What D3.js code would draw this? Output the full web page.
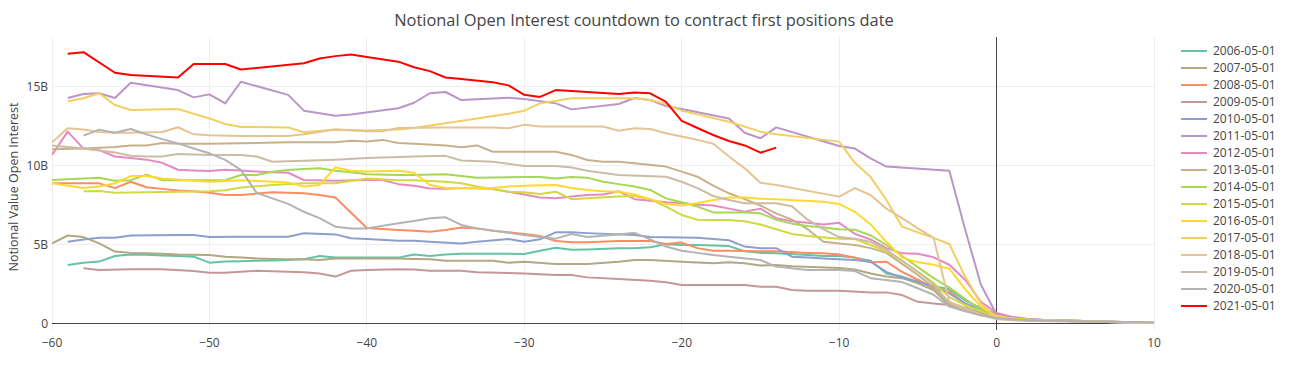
<!DOCTYPE html>
<html>
<head>
<meta charset="utf-8">
<script src="https://cdn.jsdelivr.net/npm/d3@7"></script>
<style>
  html, body { margin: 0; padding: 0; background: #fff; }
  svg { display: block; font-family: "Open Sans", verdana, arial, sans-serif; }
</style>
</head>
<body>
<svg id="chart" width="1295" height="365"></svg>
<script>
// ---------- data (values in billions, x = days to first positions date) ----------
const chartTitle = "Notional Open Interest countdown to contract first positions date";
const yAxisTitle = "Notional Value Open Interest";
const xTicks = [-60, -50, -40, -30, -20, -10, 0, 10];
const yTicks = [0, 5, 10, 15];
const seriesNames = ["2006-05-01","2007-05-01","2008-05-01","2009-05-01","2010-05-01","2011-05-01","2012-05-01","2013-05-01","2014-05-01","2015-05-01","2016-05-01","2017-05-01","2018-05-01","2019-05-01","2020-05-01","2021-05-01"];

const s2006 = [[-59,3.73],[-58,3.88],[-57,3.95],[-56,4.3],[-55,4.4],[-54,4.38],[-53,4.34],[-52,4.3],[-51,4.26],[-50,3.88],[-49,3.95],[-48,3.97],[-47,4.0],[-46,4.02],[-45,4.05],[-44,4.1],[-43,4.3],[-42,4.2],[-41,4.2],[-40,4.2],[-38,4.2],[-37,4.4],[-36,4.3],[-35,4.4],[-34,4.45],[-32,4.45],[-30,4.43],[-29,4.64],[-28,4.83],[-27,4.7],[-26,4.72],[-24,4.8],[-23,4.8],[-22,4.85],[-21,5.04],[-20,5.0],[-19,5.0],[-17,4.93],[-16,4.6],[-15,4.5],[-14,4.47],[-12,4.36],[-11,4.3],[-10,4.3],[-9,4.2],[-8,4.0],[-7,3.2],[-6,3.0],[-5,2.68],[-4,2.4],[-3,2.2],[-2,1.5],[-1,1.0],[0,0.65],[1,0.42],[2,0.3],[3,0.25],[4,0.22],[5,0.2],[6,0.18],[7,0.14],[8,0.12],[9,0.11],[10,0.1]];
const s2007 = [[-60,5.1],[-59,5.6],[-58,5.5],[-57,5.1],[-56,4.58],[-55,4.5],[-54,4.48],[-53,4.45],[-52,4.4],[-51,4.38],[-50,4.36],[-49,4.26],[-48,4.2],[-47,4.15],[-46,4.12],[-45,4.1],[-44,4.1],[-43,4.05],[-42,4.15],[-40,4.15],[-38,4.15],[-37,4.12],[-36,4.1],[-35,4.0],[-32,4.0],[-31,3.88],[-30,3.94],[-28,3.8],[-26,3.8],[-24,3.94],[-23,4.05],[-22,4.05],[-20,3.94],[-18,3.84],[-17,3.9],[-16,3.85],[-15,3.7],[-14,3.73],[-13,3.65],[-10,3.55],[-9,3.45],[-8,3.2],[-7,3.0],[-6,2.9],[-5,2.57],[-4,2.15],[-3,1.2],[-2,0.9],[-1,0.6],[0,0.4],[1,0.3],[2,0.24],[3,0.2],[4,0.2],[5,0.18],[6,0.16],[7,0.13],[8,0.11],[9,0.1],[10,0.09]];
const s2008 = [[-60,8.9],[-59,8.9],[-58,8.9],[-57,8.9],[-56,8.6],[-55,9.0],[-54,8.65],[-53,8.55],[-52,8.45],[-51,8.4],[-50,8.3],[-49,8.16],[-48,8.16],[-47,8.25],[-46,8.33],[-45,8.3],[-44,8.27],[-43,8.16],[-42,8.0],[-40,6.07],[-38,5.95],[-37,5.9],[-36,5.84],[-35,5.95],[-34,6.1],[-33,6.05],[-32,5.9],[-31,5.8],[-30,5.7],[-29,5.57],[-28,5.25],[-27,5.17],[-26,5.17],[-24,5.25],[-22,5.25],[-21,5.06],[-20,5.15],[-19,4.8],[-18,4.64],[-17,4.64],[-15,4.6],[-14,4.6],[-12,4.5],[-11,4.47],[-10,4.4],[-9,4.2],[-8,3.9],[-7,3.94],[-6,3.3],[-5,2.8],[-4,2.26],[-3,2.05],[-2,1.3],[-1,0.8],[0,0.5],[1,0.35],[2,0.27],[3,0.23],[4,0.2],[5,0.19],[6,0.16],[7,0.13],[8,0.12],[9,0.1],[10,0.09]];
const s2009 = [[-58,3.52],[-57,3.42],[-55,3.46],[-53,3.46],[-51,3.35],[-50,3.25],[-49,3.25],[-47,3.37],[-45,3.3],[-44,3.27],[-43,3.2],[-42,3.0],[-41,3.37],[-40,3.42],[-38,3.46],[-37,3.45],[-36,3.37],[-34,3.37],[-33,3.27],[-30,3.2],[-28,3.1],[-27,3.1],[-26,2.95],[-24,2.85],[-22,2.74],[-21,2.64],[-20,2.47],[-16,2.47],[-15,2.36],[-14,2.36],[-13,2.15],[-12,2.1],[-10,2.1],[-8,2.0],[-7,2.0],[-6,1.83],[-5,1.4],[-4,1.3],[-3,1.2],[-2,1.05],[-1,0.7],[0,0.45],[1,0.33],[2,0.26],[3,0.22],[4,0.2],[5,0.18],[6,0.15],[7,0.12],[8,0.11],[9,0.1],[10,0.08]];
const s2010 = [[-59,5.2],[-58,5.35],[-57,5.46],[-56,5.46],[-55,5.6],[-52,5.63],[-51,5.63],[-50,5.5],[-48,5.52],[-45,5.52],[-44,5.74],[-42,5.67],[-41,5.42],[-40,5.38],[-38,5.27],[-37,5.27],[-36,5.2],[-34,5.1],[-33,5.2],[-31,5.38],[-30,5.2],[-29,5.36],[-28,5.8],[-27,5.8],[-26,5.75],[-23,5.63],[-22,5.5],[-20,5.48],[-19,5.46],[-18,5.38],[-17,5.3],[-16,4.9],[-15,4.8],[-14,4.8],[-13,4.26],[-12,4.2],[-11,4.15],[-10,4.1],[-9,4.05],[-8,3.94],[-7,3.3],[-6,2.93],[-5,2.68],[-4,2.36],[-3,1.94],[-2,1.3],[-1,0.9],[0,0.55],[1,0.38],[2,0.29],[3,0.24],[4,0.21],[5,0.2],[6,0.17],[7,0.14],[8,0.12],[9,0.11],[10,0.1]];
const s2011 = [[-59,14.3],[-58,14.55],[-57,14.6],[-56,14.3],[-55,15.27],[-52,14.8],[-51,14.34],[-50,14.53],[-49,13.96],[-48,15.33],[-45,14.5],[-44,13.5],[-42,13.18],[-41,13.25],[-38,13.65],[-37,14.0],[-36,14.6],[-35,14.68],[-34,14.17],[-31,14.32],[-30,14.24],[-28,13.96],[-27,13.58],[-24,13.92],[-23,14.3],[-22,14.17],[-21,13.79],[-20,13.6],[-17,13.0],[-16,12.1],[-15,11.75],[-14,12.44],[-10,11.26],[-9,11.1],[-8,10.48],[-7,9.96],[-3,9.7],[-2,6.0],[-1,2.5],[0,0.6],[1,0.4],[2,0.3],[3,0.26],[4,0.23],[5,0.21],[6,0.18],[7,0.15],[8,0.13],[9,0.12],[10,0.1]];
const s2012 = [[-60,10.7],[-59,12.17],[-58,11.1],[-57,11.0],[-56,10.6],[-55,10.5],[-54,10.4],[-53,10.2],[-52,9.76],[-51,9.72],[-50,9.68],[-49,9.76],[-48,9.72],[-47,9.65],[-46,9.6],[-45,9.57],[-44,9.11],[-42,9.07],[-40,9.11],[-39,9.11],[-38,8.85],[-37,8.75],[-36,8.58],[-35,8.55],[-34,8.6],[-32,8.55],[-31,8.37],[-30,8.2],[-29,8.0],[-28,7.95],[-27,8.06],[-26,8.16],[-25,8.2],[-24,8.4],[-23,7.9],[-22,7.8],[-21,7.7],[-20,7.65],[-19,7.55],[-18,7.5],[-17,7.3],[-16,7.1],[-15,7.3],[-14,6.7],[-13,6.5],[-12,6.4],[-11,6.3],[-10,6.4],[-9,5.7],[-8,5.35],[-7,4.8],[-6,4.47],[-5,4.45],[-4,4.22],[-3,3.75],[-2,2.8],[-1,1.4],[0,0.7],[1,0.45],[2,0.32],[3,0.26],[4,0.23],[5,0.2],[6,0.18],[7,0.14],[8,0.12],[9,0.1],[10,0.09]];
const s2013 = [[-60,11.05],[-58,11.1],[-56,11.2],[-55,11.3],[-54,11.3],[-53,11.45],[-52,11.4],[-50,11.4],[-45,11.5],[-42,11.5],[-41,11.6],[-40,11.55],[-39,11.65],[-38,11.45],[-37,11.4],[-35,11.3],[-34,11.18],[-33,11.3],[-32,10.9],[-28,10.9],[-27,10.7],[-26,10.38],[-25,10.27],[-24,10.27],[-23,10.17],[-21,9.96],[-20,9.64],[-19,9.32],[-18,8.75],[-17,8.27],[-16,7.9],[-15,7.5],[-14,7.0],[-13,6.6],[-12,6.0],[-11,5.2],[-10,5.1],[-9,5.0],[-8,4.8],[-7,4.5],[-6,3.8],[-5,3.1],[-4,2.3],[-3,1.4],[-2,1.0],[-1,0.6],[0,0.4],[1,0.3],[2,0.24],[3,0.21],[4,0.19],[5,0.18],[6,0.15],[7,0.12],[8,0.11],[9,0.1],[10,0.08]];
const s2014 = [[-60,9.11],[-57,9.26],[-56,9.07],[-55,9.1],[-54,9.45],[-53,9.1],[-50,9.1],[-49,9.1],[-48,9.43],[-47,9.43],[-46,9.64],[-45,9.75],[-44,9.8],[-43,9.85],[-42,9.7],[-41,9.6],[-40,9.47],[-38,9.43],[-37,9.43],[-35,9.47],[-33,9.26],[-30,9.3],[-29,9.3],[-28,9.2],[-27,9.3],[-26,9.26],[-25,9.0],[-24,8.85],[-23,8.7],[-22,8.48],[-21,7.95],[-20,7.7],[-19,7.43],[-18,7.06],[-17,7.06],[-16,7.06],[-15,7.0],[-14,6.6],[-13,6.35],[-12,6.2],[-11,6.1],[-10,6.0],[-9,5.97],[-8,5.6],[-7,5.0],[-6,4.3],[-5,3.6],[-4,2.9],[-3,2.3],[-2,1.6],[-1,0.9],[0,0.5],[1,0.36],[2,0.28],[3,0.24],[4,0.21],[5,0.19],[6,0.17],[7,0.13],[8,0.12],[9,0.1],[10,0.09]];
const s2015 = [[-58,8.4],[-57,8.42],[-56,8.3],[-53,8.36],[-50,8.4],[-49,8.46],[-48,8.63],[-46,8.8],[-44,8.9],[-42,8.9],[-40,9.2],[-38,9.1],[-37,9.1],[-35,9.0],[-34,8.9],[-33,8.7],[-31,8.37],[-30,8.33],[-29,8.22],[-28,8.37],[-27,7.9],[-26,7.95],[-24,8.06],[-23,8.1],[-22,7.9],[-21,7.43],[-20,6.9],[-19,6.6],[-18,6.58],[-17,6.58],[-16,6.5],[-15,6.3],[-14,6.0],[-13,5.7],[-12,5.57],[-10,5.4],[-9,5.38],[-8,5.0],[-7,4.6],[-6,4.0],[-5,3.3],[-4,2.6],[-3,1.7],[-2,1.2],[-1,0.8],[0,0.45],[1,0.32],[2,0.26],[3,0.22],[4,0.2],[5,0.19],[6,0.16],[7,0.13],[8,0.11],[9,0.1],[10,0.09]];
const s2016 = [[-60,8.9],[-58,8.6],[-57,8.7],[-56,8.9],[-55,9.36],[-54,9.36],[-53,9.2],[-50,9.0],[-48,9.1],[-45,8.96],[-44,8.7],[-43,8.8],[-42,9.9],[-41,9.7],[-40,9.65],[-38,9.7],[-37,9.57],[-36,8.8],[-35,8.6],[-32,8.6],[-31,8.7],[-30,8.75],[-28,8.8],[-27,8.6],[-26,8.48],[-25,8.4],[-24,8.37],[-23,8.2],[-22,7.9],[-21,7.6],[-20,7.5],[-19,7.65],[-18,7.85],[-17,8.0],[-16,8.0],[-15,7.93],[-14,7.9],[-11,7.74],[-10,7.6],[-9,7.1],[-8,6.3],[-7,5.2],[-6,4.2],[-5,3.9],[-4,3.75],[-3,3.5],[-2,2.2],[-1,1.1],[0,0.5],[1,0.34],[2,0.27],[3,0.23],[4,0.21],[5,0.2],[6,0.17],[7,0.14],[8,0.12],[9,0.11],[10,0.1]];
const s2017 = [[-59,14.1],[-58,14.28],[-57,14.6],[-56,13.86],[-55,13.54],[-52,13.6],[-50,13.0],[-49,12.66],[-48,12.47],[-45,12.44],[-44,12.13],[-42,12.3],[-40,12.25],[-38,12.3],[-37,12.4],[-35,12.7],[-31,13.3],[-30,13.5],[-29,13.96],[-27,14.28],[-23,14.28],[-22,14.17],[-21,13.92],[-20,13.5],[-17,12.8],[-15,12.17],[-14,12.0],[-10,11.54],[-9,10.2],[-8,9.3],[-7,7.85],[-6,6.16],[-5,5.8],[-4,5.45],[-3,5.06],[-2,3.0],[-1,1.3],[0,0.4],[1,0.3],[2,0.25],[3,0.22],[4,0.2],[5,0.18],[6,0.16],[7,0.13],[8,0.12],[9,0.1],[10,0.1]];
const s2018 = [[-60,11.5],[-59,12.38],[-58,12.3],[-57,12.15],[-56,12.1],[-55,12.1],[-53,12.15],[-52,12.45],[-51,12.0],[-50,11.95],[-48,11.9],[-45,11.9],[-44,12.0],[-42,12.3],[-40,12.2],[-39,12.2],[-38,12.4],[-35,12.44],[-32,12.44],[-31,12.38],[-30,12.6],[-29,12.5],[-25,12.5],[-24,12.23],[-23,12.38],[-22,12.34],[-21,12.07],[-20,11.86],[-19,11.65],[-18,11.4],[-17,10.6],[-16,9.85],[-15,8.94],[-14,8.8],[-10,8.06],[-9,8.6],[-8,8.16],[-7,7.3],[-6,6.7],[-5,6.05],[-4,5.45],[-3,1.4],[-2,1.0],[-1,0.6],[0,0.3],[1,0.24],[2,0.2],[3,0.18],[4,0.17],[5,0.16],[6,0.14],[7,0.12],[8,0.1],[9,0.09],[10,0.08]];
const s2019 = [[-60,11.3],[-58,11.1],[-56,10.85],[-55,10.65],[-54,10.6],[-53,10.6],[-52,10.75],[-50,10.7],[-48,10.7],[-47,10.6],[-46,10.27],[-45,10.3],[-42,10.4],[-40,10.5],[-37,10.6],[-35,10.64],[-34,10.35],[-32,10.27],[-30,10.0],[-28,10.0],[-27,9.9],[-26,9.7],[-24,9.43],[-21,9.32],[-20,9.0],[-19,8.6],[-18,8.1],[-17,7.85],[-16,7.64],[-14,7.64],[-13,7.45],[-12,6.6],[-11,6.0],[-10,5.5],[-9,5.4],[-8,5.2],[-7,4.7],[-6,4.0],[-5,3.3],[-4,2.5],[-3,1.3],[-2,0.9],[-1,0.55],[0,0.35],[1,0.27],[2,0.22],[3,0.2],[4,0.18],[5,0.17],[6,0.15],[7,0.12],[8,0.11],[9,0.1],[10,0.08]];
const s2020 = [[-58,11.92],[-57,12.3],[-56,12.1],[-55,12.34],[-54,12.0],[-53,11.7],[-52,11.43],[-51,11.1],[-50,10.8],[-49,10.38],[-48,9.75],[-47,8.3],[-45,7.6],[-44,7.1],[-43,6.7],[-42,6.16],[-41,6.05],[-40,6.05],[-38,6.37],[-37,6.52],[-36,6.69],[-35,6.75],[-34,6.27],[-33,6.05],[-31,5.77],[-30,5.63],[-29,5.5],[-28,5.4],[-27,5.69],[-26,5.5],[-24,5.67],[-23,5.77],[-22,5.35],[-21,4.9],[-20,4.64],[-19,4.5],[-18,4.36],[-17,4.26],[-15,4.05],[-14,3.63],[-12,3.42],[-10,3.42],[-9,3.35],[-8,2.9],[-7,2.78],[-6,2.65],[-5,2.26],[-4,1.85],[-3,1.1],[-2,0.8],[-1,0.55],[0,0.4],[1,0.3],[2,0.24],[3,0.21],[4,0.2],[5,0.18],[6,0.16],[7,0.14],[8,0.13],[9,0.12],[10,0.11]];
const s2021 = [[-59,17.1],[-58,17.2],[-56,15.9],[-55,15.75],[-52,15.6],[-51,16.45],[-49,16.45],[-48,16.1],[-44,16.5],[-43,16.8],[-42,16.95],[-41,17.05],[-40,16.9],[-38,16.6],[-37,16.25],[-36,16.0],[-35,15.6],[-34,15.5],[-32,15.3],[-31,15.1],[-30,14.5],[-29,14.37],[-28,14.8],[-24,14.55],[-23,14.65],[-22,14.6],[-21,14.05],[-20,12.85],[-19,12.4],[-18,11.96],[-17,11.58],[-16,11.3],[-15,10.84],[-14,11.16]];

const seriesValues = [s2006,s2007,s2008,s2009,s2010,s2011,s2012,s2013,s2014,s2015,s2016,s2017,s2018,s2019,s2020,s2021];

// ---------- style ----------
const set2Scale = d3.piecewise(d3.interpolateRgb, d3.schemeSet2);
const colors = seriesNames.map((n, i) => i < 15 ? set2Scale(i / 14) : "#ff0000");

const plot = { left: 52, right: 1154, top: 37, bottom: 330 };
const svg = d3.select("#chart");

const x = d3.scaleLinear().domain([-60, 10]).range([plot.left, plot.right]);
const y = d3.scaleLinear().domain([-0.38, 18.16]).range([plot.bottom, plot.top]);

// grid
const grid = svg.append("g");
grid.selectAll("line.xg").data(xTicks.filter(d => d !== 0)).join("line")
  .attr("x1", d => x(d)).attr("x2", d => x(d))
  .attr("y1", plot.top).attr("y2", plot.bottom)
  .attr("stroke", "#eee").attr("stroke-width", 1).attr("shape-rendering", "crispEdges");
grid.selectAll("line.yg").data(yTicks.filter(d => d !== 0)).join("line")
  .attr("x1", plot.left).attr("x2", plot.right)
  .attr("y1", d => y(d)).attr("y2", d => y(d))
  .attr("stroke", "#eee").attr("stroke-width", 1).attr("shape-rendering", "crispEdges");

// zero lines
svg.append("line").attr("x1", x(0)).attr("x2", x(0)).attr("y1", plot.top).attr("y2", plot.bottom)
  .attr("stroke", "#444").attr("stroke-width", 1).attr("shape-rendering", "crispEdges");
svg.append("line").attr("x1", plot.left).attr("x2", plot.right).attr("y1", y(0)).attr("y2", y(0))
  .attr("stroke", "#444").attr("stroke-width", 1).attr("shape-rendering", "crispEdges");

// clip
svg.append("clipPath").attr("id", "clip").append("rect")
  .attr("x", plot.left).attr("y", plot.top)
  .attr("width", plot.right - plot.left).attr("height", plot.bottom - plot.top);

const line = d3.line().x(d => x(d[0])).y(d => y(d[1]));
svg.append("g").attr("clip-path", "url(#clip)")
  .selectAll("path").data(seriesValues).join("path")
  .attr("d", line)
  .attr("fill", "none")
  .attr("stroke", (d, i) => colors[i])
  .attr("stroke-width", 2)
  .attr("stroke-linejoin", "round");

// axes labels
const fmtX = d => (d < 0 ? "\u2212" + Math.abs(d) : String(d));
svg.append("g").selectAll("text").data(xTicks).join("text")
  .attr("x", d => x(d)).attr("y", 347)
  .attr("text-anchor", "middle")
  .attr("font-size", 12).attr("fill", "#444")
  .text(fmtX);
svg.append("g").selectAll("text").data(yTicks).join("text")
  .attr("x", 48).attr("y", d => y(d)).attr("dy", "0.36em")
  .attr("text-anchor", "end")
  .attr("font-size", 12).attr("fill", "#444")
  .text(d => d === 0 ? "0" : d + "B");

svg.append("text")
  .attr("transform", "translate(18,187) rotate(-90)")
  .attr("text-anchor", "middle").attr("font-size", 12.5).attr("fill", "#444")
  .text(yAxisTitle);

svg.append("text")
  .attr("x", 644).attr("y", 26)
  .attr("text-anchor", "middle").attr("font-size", 16.4).attr("fill", "#444")
  .text(chartTitle);

// legend
const leg = svg.append("g").selectAll("g").data(seriesNames).join("g")
  .attr("transform", (d, i) => `translate(1181,${51 + i * 17})`);
leg.append("line").attr("x1", 0).attr("x2", 26).attr("y1", 0).attr("y2", 0)
  .attr("stroke", (d, i) => colors[i]).attr("stroke-width", 2);
leg.append("text").attr("x", 32).attr("dy", "0.36em")
  .attr("font-size", 12).attr("fill", "#444").text(d => d);
</script>
</body>
</html>
